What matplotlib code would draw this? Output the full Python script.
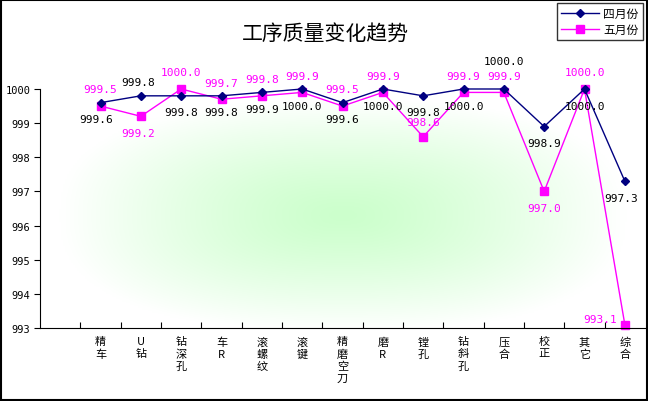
import numpy as np
import matplotlib
matplotlib.use("Agg")
import matplotlib.pyplot as plt
from matplotlib.patches import Rectangle

plt.rcParams["font.family"] = ["Noto Sans CJK SC", "DejaVu Sans"]

categories = ["精\n车", "U\n钻", "钻\n深\n孔", "车\nR", "滚\n螺\n纹", "滚\n键", "精\n磨\n空\n刀",
              "磨\nR", "镗\n孔", "钻\n斜\n孔", "压\n合", "校\n正", "其\n它", "综\n合"]
april = [999.6, 999.8, 999.8, 999.8, 999.9, 1000.0, 999.6, 1000.0, 999.8, 1000.0, 1000.0, 998.9, 1000.0, 997.3]
may = [999.5, 999.2, 1000.0, 999.7, 999.8, 999.9, 999.5, 999.9, 998.6, 999.9, 999.9, 997.0, 1000.0, 993.1]
y_ticks = [993, 994, 995, 996, 997, 998, 999, 1000]

# label offsets in points (dx, dy)
apr_off = [(-3, -12), (-2, 10), (0, -12), (0, -12), (0, -12), (0, -12), (0, -12),
           (0, -12), (0, -12), (0, -12), (0, 20), (0, -12), (0, -12), (-3, -12)]
may_off = [(0, 12), (-2, -12), (0, 12), (0, 12), (0, 12), (0, 12), (0, 12),
           (0, 12), (0, 11), (0, 12), (0, 12), (0, -12), (0, 12), (-18, 4)]

fig = plt.figure(figsize=(6.48, 4.02), dpi=100)
fig.patches.append(Rectangle((0.002, 0.002), 0.996, 0.996, transform=fig.transFigure,
                             fill=False, edgecolor="black", linewidth=1.5))
ax = fig.add_axes([40 / 648, 73 / 402, 605 / 648, 239 / 402])

n = len(categories)
x = np.arange(n)
ax.set_xlim(-1.5, n - 0.5)
ax.set_ylim(993, 1000)

# green background fading out from the centre
gx = np.linspace(-1.5, n - 0.5, 300)
gy = np.linspace(993, 1000, 150)
GX, GY = np.meshgrid(gx, gy)
dx = (GX - 6.0) / 7.0
dy = (GY - 996.3) / 3.4
t = np.clip((np.abs(dx) ** 2.5 + np.abs(dy) ** 2.5) ** (1 / 2.5), 0, 1)
w = 1 - t ** 1.3
img = np.ones(GX.shape + (3,))
img[..., 0] = 1 - w * (1 - 204 / 255)
img[..., 2] = 1 - w * (1 - 204 / 255)
ax.imshow(img, extent=(-1.5, n - 0.5, 993, 1000), origin="lower", aspect="auto", zorder=0)

ax.plot(x, april, color="#000080", marker="D", markersize=4.5, linewidth=1, clip_on=False,
        zorder=3, label="四月份")
ax.plot(x, may, color="#FF00FF", marker="s", markersize=5.5, linewidth=1, clip_on=False,
        zorder=2, label="五月份")

for i in range(n):
    ax.annotate(f"{april[i]:.1f}", (x[i], april[i]), xytext=apr_off[i], textcoords="offset points",
                ha="center", va="center", fontsize=8, color="black", family="DejaVu Sans Mono",
                zorder=4)
    ax.annotate(f"{may[i]:.1f}", (x[i], may[i]), xytext=may_off[i], textcoords="offset points",
                ha="center", va="center", fontsize=8, color="#FF00FF", family="DejaVu Sans Mono",
                zorder=4)

ax.set_yticks(y_ticks)
ax.set_yticklabels([str(v) for v in y_ticks], fontsize=7.5, family="DejaVu Sans Mono")
ax.set_xticks(np.arange(-0.5, n - 0.5, 1))
ax.set_xticklabels([])
ax.set_xticks(x, minor=True)
ax.set_xticklabels(categories, minor=True, fontsize=8, linespacing=1.25, va="top")
ax.tick_params(axis="x", which="minor", length=0, pad=6)
ax.tick_params(axis="x", which="major", direction="in", length=4)
ax.tick_params(axis="y", direction="out", length=4, pad=3)
for s in ["top", "right"]:
    ax.spines[s].set_visible(False)

fig.text(0.502, 0.917, "工序质量变化趋势", ha="center", va="center", fontsize=15)
leg = fig.legend(loc="upper right", bbox_to_anchor=(0.992, 0.99), fontsize=8.5, frameon=True,
                 fancybox=False, edgecolor="black", borderpad=0.35, handlelength=3.2,
                 labelspacing=0.25, handletextpad=0.4, borderaxespad=0)
leg.get_frame().set_linewidth(1)

fig.savefig("out.png", dpi=100)
